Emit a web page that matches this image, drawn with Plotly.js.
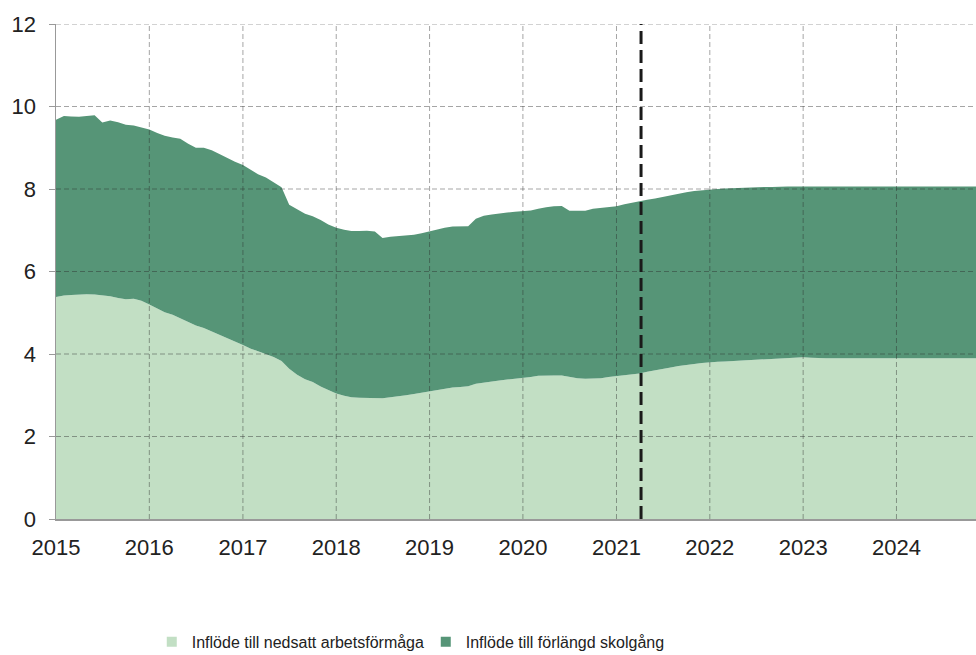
<!DOCTYPE html>
<html>
<head>
<meta charset="utf-8">
<script src="https://cdn.plot.ly/plotly-3.0.1.min.js"></script>
<style>html,body{margin:0;padding:0;background:#fff;}#chart{width:976px;height:655px;}</style>
</head>
<body>
<div id="chart"></div>
<script>
// Monthly data, January 2015 – December 2024
const startYear = 2015;
const monthCount = 120;

const seriesNames = ["Inflöde till nedsatt arbetsförmåga", "Inflöde till förlängd skolgång"];

// Inflöde till nedsatt arbetsförmåga (lower area)
const nedsatt = [
  5.38,5.42,5.43,5.44,5.45,5.44,5.42,5.40,5.36,5.33,5.34,5.29,
  5.20,5.10,5.01,4.95,4.87,4.77,4.69,4.63,4.55,4.47,4.39,4.30,
  4.22,4.13,4.07,4.01,3.93,3.83,3.64,3.50,3.39,3.32,3.21,3.13,
  3.04,2.99,2.95,2.94,2.94,2.94,2.93,2.95,2.97,3.00,3.03,3.06,
  3.09,3.12,3.15,3.19,3.20,3.22,3.28,3.31,3.34,3.36,3.38,3.40,
  3.41,3.44,3.47,3.48,3.48,3.48,3.45,3.41,3.40,3.41,3.41,3.44,
  3.46,3.48,3.51,3.53,3.57,3.60,3.63,3.67,3.71,3.74,3.76,3.78,
  3.80,3.81,3.82,3.83,3.84,3.85,3.86,3.87,3.88,3.89,3.90,3.91,
  3.92,3.91,3.90,3.90,3.90,3.90,3.90,3.90,3.90,3.90,3.90,3.90,
  3.90,3.90,3.90,3.90,3.90,3.90,3.90,3.90,3.90,3.90,3.90,3.90
];

// Inflöde till förlängd skolgång (stacked on top)
const skolgang = [
  4.30,4.35,4.33,4.31,4.32,4.35,4.19,4.26,4.26,4.23,4.20,4.21,
  4.24,4.26,4.28,4.30,4.35,4.33,4.31,4.37,4.39,4.38,4.36,4.36,
  4.36,4.34,4.29,4.27,4.24,4.21,3.98,4.00,4.01,4.02,4.04,4.01,
  4.02,4.02,4.03,4.04,4.05,4.03,3.88,3.89,3.89,3.87,3.86,3.87,
  3.89,3.91,3.91,3.90,3.89,3.88,4.00,4.04,4.04,4.05,4.05,4.05,
  4.05,4.04,4.05,4.08,4.10,4.11,4.02,4.06,4.07,4.11,4.13,4.12,
  4.12,4.15,4.16,4.18,4.17,4.17,4.18,4.17,4.17,4.18,4.19,4.19,
  4.19,4.19,4.19,4.19,4.18,4.18,4.18,4.18,4.17,4.17,4.16,4.15,
  4.14,4.15,4.16,4.16,4.16,4.16,4.16,4.16,4.16,4.16,4.16,4.16,
  4.16,4.16,4.16,4.16,4.16,4.16,4.16,4.16,4.16,4.16,4.16,4.16
];

const yTicks = [0, 2, 4, 6, 8, 10, 12];
const xTickYears = ["2015","2016","2017","2018","2019","2020","2021","2022","2023","2024"];
const forecastStart = "2021-04-07";
const xRange = ["2015-01-01", "2024-11-07"];

const months = [];
for (let i = 0; i < monthCount; i++) {
  const y = startYear + Math.floor(i / 12);
  const m = (i % 12) + 1;
  months.push(y + "-" + (m < 10 ? "0" + m : m) + "-01");
}

const lightGreen = "#c2dfc4";
const darkGreen = "#569577";

const traces = [
  {
    x: months, y: nedsatt, name: seriesNames[0], type: "scatter", mode: "lines",
    stackgroup: "one", line: {width: 0, color: lightGreen}, fillcolor: lightGreen,
    showlegend: false, hoverinfo: "x+y"
  },
  {
    x: months, y: skolgang, name: seriesNames[1], type: "scatter", mode: "lines",
    stackgroup: "one", line: {width: 0, color: darkGreen}, fillcolor: darkGreen,
    showlegend: false, hoverinfo: "x+y"
  },
  {
    x: [null], y: [null], name: seriesNames[0], type: "scatter", mode: "markers",
    marker: {symbol: "square", size: 10, color: lightGreen}, showlegend: true
  },
  {
    x: [null], y: [null], name: seriesNames[1], type: "scatter", mode: "markers",
    marker: {symbol: "square", size: 10, color: darkGreen}, showlegend: true
  }
];

const gridStyle = {color: "rgba(40,40,40,0.42)", width: 1, dash: "5px,3px"};
const shapes = [];
yTicks.forEach(v => {
  if (v === 0) return;
  shapes.push({type: "line", xref: "paper", yref: "y", x0: 0, x1: 1, y0: v, y1: v, line: gridStyle, layer: "above"});
});
xTickYears.forEach(yr => {
  if (yr === xTickYears[0]) return;
  shapes.push({type: "line", xref: "x", yref: "paper", x0: yr + "-01-01", x1: yr + "-01-01", y0: 0, y1: 1, line: gridStyle, layer: "above"});
});
shapes.push({type: "line", xref: "x", yref: "paper", x0: forecastStart, x1: forecastStart, y0: 0, y1: 1,
  line: {color: "#1a1a1a", width: 3, dash: "13px,6px"}, layer: "above"});

const layout = {
  width: 976, height: 655,
  margin: {l: 56, r: 0, t: 24, b: 136},
  paper_bgcolor: "#ffffff", plot_bgcolor: "#ffffff",
  font: {family: "Liberation Sans, Arial, sans-serif", color: "#222222", size: 22},
  showlegend: true,
  legend: {orientation: "h", xref: "container", yref: "container",
    x: 0.1555, xanchor: "left", y: 0.046, yanchor: "top",
    font: {size: 16, color: "#222222"}, itemclick: false, traceorder: "normal",
    entrywidth: 229, entrywidthmode: "pixels"},
  xaxis: {
    type: "date", range: xRange,
    tickvals: xTickYears.map(y => y + "-01-01"), ticktext: xTickYears,
    showgrid: false, zeroline: false, showline: true, linecolor: "#999999", linewidth: 1.5,
    ticks: "", tickfont: {size: 22}, ticklabelstandoff: 8, layer: "above traces"
  },
  yaxis: {
    range: [0, 12], tickvals: yTicks, showgrid: false, zeroline: false,
    showline: true, linecolor: "#999999", linewidth: 1.5,
    ticks: "outside", ticklen: 6, tickcolor: "#999999", tickfont: {size: 22},
    ticklabelstandoff: 8, layer: "above traces"
  },
  shapes: shapes
};

Plotly.newPlot("chart", traces, layout, {displayModeBar: false, staticPlot: true});
</script>
</body>
</html>
